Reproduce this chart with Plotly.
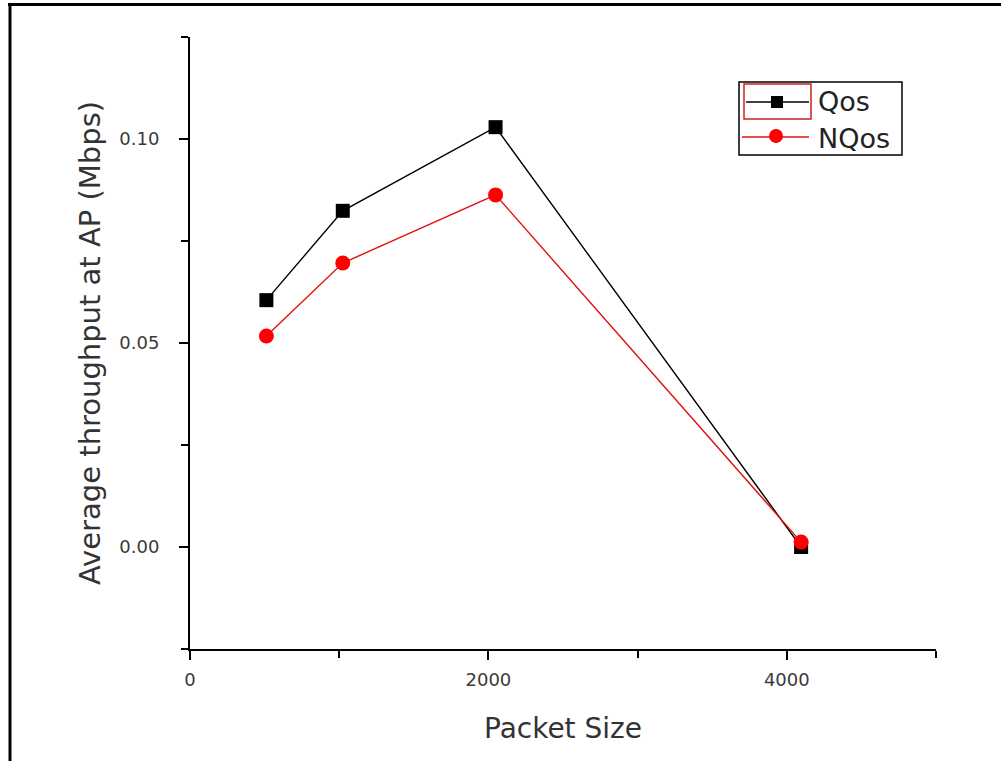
import plotly.graph_objects as go

packet_size = [512, 1024, 2048, 4096]
qos = [0.0605, 0.0824, 0.1029, 0.0000]
nqos = [0.0517, 0.0696, 0.0863, 0.0012]
series_names = ["Qos", "NQos"]

tick_font = "DejaVu Sans, Liberation Sans, sans-serif"
title_font = "DejaVu Sans, Liberation Sans, sans-serif"

W, H = 1001, 761
L, T, R, B = 190, 37, 65, 112
PW, PH = W - L - R, H - T - B


def px(x):
    return (x - L) / PW


def py(y):
    return (H - B - y) / PH


fig = go.Figure()
fig.add_trace(go.Scatter(
    x=packet_size, y=qos, name=series_names[0], mode="lines+markers",
    line=dict(color="black", width=1.4),
    marker=dict(symbol="square", size=14, color="black"),
    showlegend=False,
))
fig.add_trace(go.Scatter(
    x=packet_size, y=nqos, name=series_names[1], mode="lines+markers",
    line=dict(color="#e01010", width=1.4),
    marker=dict(symbol="circle", size=15, color="#ff0000"),
    showlegend=False,
))

axis_common = dict(
    showline=True, linecolor="black", linewidth=2,
    ticks="outside", tickcolor="black", tickwidth=2, ticklen=9,
    showgrid=False, zeroline=False,
    tickfont=dict(family=tick_font, size=18, color="#3a3a3a"),
)

fig.update_xaxes(
    range=[0, 5000], tick0=0, dtick=2000,
    minor=dict(dtick=1000, ticks="outside", ticklen=7, tickcolor="black", tickwidth=2),
    ticklabelstandoff=4,
    title=dict(text="Packet Size", font=dict(family=title_font, size=28, color="#333333"), standoff=30),
    **axis_common,
)
fig.update_yaxes(
    range=[-0.025, 0.125], tick0=0, dtick=0.05, tickformat=".2f",
    minor=dict(dtick=0.025, ticks="outside", ticklen=7, tickcolor="black", tickwidth=2),
    ticklabelstandoff=16,
    title=dict(text="Average throughput at AP (Mbps)", font=dict(family=title_font, size=29, color="#333333"), standoff=10),
    **axis_common,
)

shapes = [
    # outer frame (top and left edges)
    dict(type="line", xref="paper", yref="paper", x0=px(8), x1=px(1010), y0=py(4.5), y1=py(4.5),
         line=dict(color="black", width=3)),
    dict(type="line", xref="paper", yref="paper", x0=px(10), x1=px(10), y0=py(3), y1=py(770),
         line=dict(color="black", width=3)),
    # legend box
    dict(type="rect", xref="paper", yref="paper", x0=px(739), x1=px(902), y0=py(82), y1=py(155),
         line=dict(color="black", width=1.5), fillcolor="white", layer="above"),
    # selection-style red frame round the first legend sample
    dict(type="rect", xref="paper", yref="paper", x0=px(744), x1=px(811), y0=py(84), y1=py(119),
         line=dict(color="#cc2222", width=1.5), fillcolor="rgba(0,0,0,0)", layer="above"),
    # legend samples
    dict(type="line", xref="paper", yref="paper", x0=px(746), x1=px(809), y0=py(102), y1=py(102),
         line=dict(color="black", width=1.5), layer="above"),
    dict(type="rect", xref="paper", yref="paper", xsizemode="pixel", ysizemode="pixel",
         xanchor=px(777), yanchor=py(102), x0=-6, x1=6, y0=-6, y1=6,
         line=dict(color="black", width=0), fillcolor="black", layer="above"),
    dict(type="line", xref="paper", yref="paper", x0=px(742), x1=px(809), y0=py(137), y1=py(137),
         line=dict(color="#e01010", width=1.5), layer="above"),
    dict(type="circle", xref="paper", yref="paper", xsizemode="pixel", ysizemode="pixel",
         xanchor=px(776), yanchor=py(136), x0=-7, x1=7, y0=-7, y1=7,
         line=dict(color="#ff0000", width=0), fillcolor="#ff0000", layer="above"),
]

annotations = [
    dict(text=series_names[0], xref="paper", yref="paper", x=px(816), y=py(102),
         xanchor="left", yanchor="middle", showarrow=False,
         font=dict(family=title_font, size=27, color="#222222")),
    dict(text=series_names[1], xref="paper", yref="paper", x=px(816), y=py(138),
         xanchor="left", yanchor="middle", showarrow=False,
         font=dict(family=title_font, size=27, color="#222222")),
]

fig.update_layout(
    width=W, height=H, autosize=False,
    margin=dict(l=L, r=R, t=T, b=B),
    paper_bgcolor="white", plot_bgcolor="white",
    showlegend=False,
    shapes=shapes,
    annotations=annotations,
)

fig.write_html("out.html", config={"displayModeBar": False},
               post_script="document.body.style.margin='0px';")
